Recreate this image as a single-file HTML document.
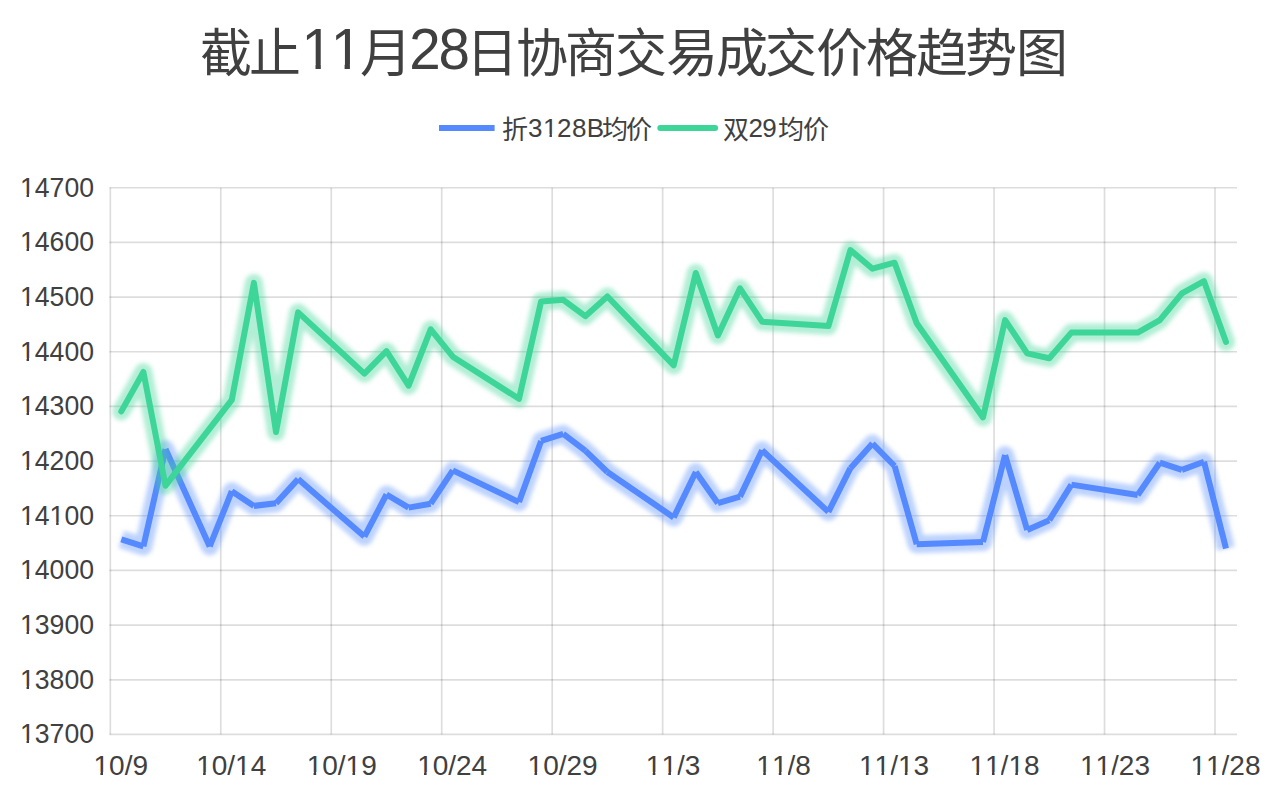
<!DOCTYPE html>
<html lang="zh-CN"><head><meta charset="utf-8">
<style>
html,body{margin:0;padding:0;background:#fff;}
body{width:1268px;height:804px;overflow:hidden;position:relative;font-family:"Liberation Sans",sans-serif;}
svg{position:absolute;left:0;top:0;font-family:"Liberation Sans",sans-serif;}
</style></head><body>
<svg width="1268" height="804" viewBox="0 0 1268 804">
<defs>
<filter id="glow" filterUnits="userSpaceOnUse" x="0" y="0" width="1268" height="804"><feGaussianBlur stdDeviation="2"/></filter>
</defs>
<rect width="1268" height="804" fill="#fff"/>
<g fill="#404040">
<text x="200.3" y="72.2" font-size="52">截</text>
<text x="249.0" y="72.2" font-size="52">止</text>
<text x="301.6" y="69.2" font-size="56.5">1</text>
<text x="330.7" y="69.2" font-size="56.5">1</text>
<text x="359.7" y="72.2" font-size="52">月</text>
<text x="409.2" y="69.2" font-size="56.5">2</text>
<text x="438.6" y="69.2" font-size="56.5">8</text>
<text x="465.8" y="72.2" font-size="52">日</text>
<text x="516.1" y="72.2" font-size="52">协</text>
<text x="564.8" y="72.2" font-size="52">商</text>
<text x="615.1" y="72.2" font-size="52">交</text>
<text x="666.3" y="72.2" font-size="52">易</text>
<text x="715.7" y="72.2" font-size="52">成</text>
<text x="765.1" y="72.2" font-size="52">交</text>
<text x="815.8" y="72.2" font-size="52">价</text>
<text x="865.5" y="72.2" font-size="52">格</text>
<text x="916.2" y="72.2" font-size="52">趋</text>
<text x="965.4" y="72.2" font-size="52">势</text>
<text x="1016.1" y="72.2" font-size="52">图</text>
</g>
<g stroke="#000" stroke-opacity="0.135" stroke-width="1.7" fill="none">
<line x1="109.5" y1="187.75" x2="1237" y2="187.75"/>
<line x1="109.5" y1="242.42" x2="1237" y2="242.42"/>
<line x1="109.5" y1="297.09" x2="1237" y2="297.09"/>
<line x1="109.5" y1="351.76" x2="1237" y2="351.76"/>
<line x1="109.5" y1="406.43" x2="1237" y2="406.43"/>
<line x1="109.5" y1="461.10" x2="1237" y2="461.10"/>
<line x1="109.5" y1="515.77" x2="1237" y2="515.77"/>
<line x1="109.5" y1="570.44" x2="1237" y2="570.44"/>
<line x1="109.5" y1="625.11" x2="1237" y2="625.11"/>
<line x1="109.5" y1="679.78" x2="1237" y2="679.78"/>
<line x1="109.5" y1="734.45" x2="1237" y2="734.45"/>
<line x1="110.30" y1="187.75" x2="110.30" y2="734.45"/>
<line x1="220.77" y1="187.75" x2="220.77" y2="734.45"/>
<line x1="331.24" y1="187.75" x2="331.24" y2="734.45"/>
<line x1="441.71" y1="187.75" x2="441.71" y2="734.45"/>
<line x1="552.18" y1="187.75" x2="552.18" y2="734.45"/>
<line x1="662.65" y1="187.75" x2="662.65" y2="734.45"/>
<line x1="773.12" y1="187.75" x2="773.12" y2="734.45"/>
<line x1="883.59" y1="187.75" x2="883.59" y2="734.45"/>
<line x1="994.06" y1="187.75" x2="994.06" y2="734.45"/>
<line x1="1104.53" y1="187.75" x2="1104.53" y2="734.45"/>
<line x1="1215.00" y1="187.75" x2="1215.00" y2="734.45"/>
</g>
<g font-size="28" fill="#404040">
<text transform="translate(20,196.55) scale(0.9507,1)" x="0.00 15.57 31.14 46.70 62.27" y="0">14700</text>
<text transform="translate(20,251.22) scale(0.9507,1)" x="0.00 15.57 31.14 46.70 62.27" y="0">14600</text>
<text transform="translate(20,305.89) scale(0.9507,1)" x="0.00 15.57 31.14 46.70 62.27" y="0">14500</text>
<text transform="translate(20,360.56) scale(0.9507,1)" x="0.00 15.57 31.14 46.70 62.27" y="0">14400</text>
<text transform="translate(20,415.23) scale(0.9507,1)" x="0.00 15.57 31.14 46.70 62.27" y="0">14300</text>
<text transform="translate(20,469.90) scale(0.9507,1)" x="0.00 15.57 31.14 46.70 62.27" y="0">14200</text>
<text transform="translate(20,524.57) scale(0.9507,1)" x="0.00 15.57 31.14 46.70 62.27" y="0">14100</text>
<text transform="translate(20,579.24) scale(0.9507,1)" x="0.00 15.57 31.14 46.70 62.27" y="0">14000</text>
<text transform="translate(20,633.91) scale(0.9507,1)" x="0.00 15.57 31.14 46.70 62.27" y="0">13900</text>
<text transform="translate(20,688.58) scale(0.9507,1)" x="0.00 15.57 31.14 46.70 62.27" y="0">13800</text>
<text transform="translate(20,743.25) scale(0.9507,1)" x="0.00 15.57 31.14 46.70 62.27" y="0">13700</text>
</g>
<g font-size="28" fill="#404040">
<text x="93.50 109.07 124.64 132.42" y="775.2">10/9</text>
<text x="196.19 211.76 227.33 235.11 250.68" y="775.2">10/14</text>
<text x="306.66 322.23 337.79 345.58 361.15" y="775.2">10/19</text>
<text x="417.13 432.70 448.26 456.05 471.62" y="775.2">10/24</text>
<text x="527.60 543.17 558.73 566.52 582.09" y="775.2">10/29</text>
<text x="645.85 661.42 676.99 684.77" y="775.2">11/3</text>
<text x="756.32 771.89 787.46 795.24" y="775.2">11/8</text>
<text x="859.01 874.58 890.14 897.93 913.50" y="775.2">11/13</text>
<text x="969.48 985.05 1000.61 1008.40 1023.97" y="775.2">11/18</text>
<text x="1079.95 1095.52 1111.09 1118.87 1134.44" y="775.2">11/23</text>
<text x="1190.42 1205.99 1221.56 1229.34 1244.91" y="775.2">11/28</text>
</g>
<g fill="none" stroke-linejoin="round" stroke-linecap="round" transform="translate(0,1.1)">
<polyline points="121.3,538.2 143.4,545.3 165.5,448.0 209.7,545.3 231.8,490.1 253.9,504.8 276.0,502.1 298.1,478.0 364.4,535.5 386.5,493.4 408.6,506.5 430.7,502.6 452.8,469.3 519.0,501.0 541.1,439.8 563.2,432.7 585.3,449.6 607.4,470.9 673.7,516.3 695.8,470.9 717.9,502.1 740.0,495.5 762.1,449.1 828.4,510.8 850.4,467.1 872.5,442.5 894.6,464.9 916.7,543.1 983.0,540.9 1005.1,454.0 1027.2,528.9 1049.3,519.1 1071.4,483.5 1137.7,493.9 1159.8,461.6 1181.9,468.8 1204.0,460.6 1226.0,547.5" stroke="#5b8ff9" stroke-opacity="0.4" stroke-width="18" stroke-linecap="butt" filter="url(#glow)"/>
<g stroke="#5589ff" stroke-width="6" stroke-linecap="butt">
<line x1="121.3" y1="538.2" x2="143.4" y2="545.3"/>
<line x1="143.4" y1="545.3" x2="165.5" y2="448.0"/>
<line x1="165.5" y1="448.0" x2="209.7" y2="545.3"/>
<line x1="209.7" y1="545.3" x2="231.8" y2="490.1"/>
<line x1="231.8" y1="490.1" x2="253.9" y2="504.8"/>
<line x1="253.9" y1="504.8" x2="276.0" y2="502.1"/>
<line x1="276.0" y1="502.1" x2="298.1" y2="478.0"/>
<line x1="298.1" y1="478.0" x2="364.4" y2="535.5"/>
<line x1="364.4" y1="535.5" x2="386.5" y2="493.4"/>
<line x1="386.5" y1="493.4" x2="408.6" y2="506.5"/>
<line x1="408.6" y1="506.5" x2="430.7" y2="502.6"/>
<line x1="430.7" y1="502.6" x2="452.8" y2="469.3"/>
<line x1="452.8" y1="469.3" x2="519.0" y2="501.0"/>
<line x1="519.0" y1="501.0" x2="541.1" y2="439.8"/>
<line x1="541.1" y1="439.8" x2="563.2" y2="432.7"/>
<line x1="563.2" y1="432.7" x2="585.3" y2="449.6"/>
<line x1="585.3" y1="449.6" x2="607.4" y2="470.9"/>
<line x1="607.4" y1="470.9" x2="673.7" y2="516.3"/>
<line x1="673.7" y1="516.3" x2="695.8" y2="470.9"/>
<line x1="695.8" y1="470.9" x2="717.9" y2="502.1"/>
<line x1="717.9" y1="502.1" x2="740.0" y2="495.5"/>
<line x1="740.0" y1="495.5" x2="762.1" y2="449.1"/>
<line x1="762.1" y1="449.1" x2="828.4" y2="510.8"/>
<line x1="828.4" y1="510.8" x2="850.4" y2="467.1"/>
<line x1="850.4" y1="467.1" x2="872.5" y2="442.5"/>
<line x1="872.5" y1="442.5" x2="894.6" y2="464.9"/>
<line x1="894.6" y1="464.9" x2="916.7" y2="543.1"/>
<line x1="916.7" y1="543.1" x2="983.0" y2="540.9"/>
<line x1="983.0" y1="540.9" x2="1005.1" y2="454.0"/>
<line x1="1005.1" y1="454.0" x2="1027.2" y2="528.9"/>
<line x1="1027.2" y1="528.9" x2="1049.3" y2="519.1"/>
<line x1="1049.3" y1="519.1" x2="1071.4" y2="483.5"/>
<line x1="1071.4" y1="483.5" x2="1137.7" y2="493.9"/>
<line x1="1137.7" y1="493.9" x2="1159.8" y2="461.6"/>
<line x1="1159.8" y1="461.6" x2="1181.9" y2="468.8"/>
<line x1="1181.9" y1="468.8" x2="1204.0" y2="460.6"/>
<line x1="1204.0" y1="460.6" x2="1226.0" y2="547.5"/>
</g>
<polyline points="121.3,410.3 143.4,370.9 165.5,484.6 231.8,398.8 253.9,281.8 276.0,431.0 298.1,311.3 364.4,372.5 386.5,350.1 408.6,384.6 430.7,328.3 452.8,355.6 519.0,397.7 541.1,300.4 563.2,298.7 585.3,315.1 607.4,295.4 673.7,364.3 695.8,271.9 717.9,334.3 740.0,287.2 762.1,320.6 828.4,325.0 850.4,249.0 872.5,267.6 894.6,261.6 916.7,322.2 983.0,416.3 1005.1,319.0 1027.2,352.3 1049.3,357.2 1071.4,331.5 1137.7,331.5 1159.8,319.0 1181.9,292.2 1204.0,280.1 1226.0,340.8" stroke="#3ed598" stroke-opacity="0.4" stroke-width="18" filter="url(#glow)"/>
<polyline points="121.3,410.3 143.4,370.9 165.5,484.6 231.8,398.8 253.9,281.8 276.0,431.0 298.1,311.3 364.4,372.5 386.5,350.1 408.6,384.6 430.7,328.3 452.8,355.6 519.0,397.7 541.1,300.4 563.2,298.7 585.3,315.1 607.4,295.4 673.7,364.3 695.8,271.9 717.9,334.3 740.0,287.2 762.1,320.6 828.4,325.0 850.4,249.0 872.5,267.6 894.6,261.6 916.7,322.2 983.0,416.3 1005.1,319.0 1027.2,352.3 1049.3,357.2 1071.4,331.5 1137.7,331.5 1159.8,319.0 1181.9,292.2 1204.0,280.1 1226.0,340.8" stroke="#3ed598" stroke-width="6"/>
</g>
<line x1="439" y1="128" x2="494.6" y2="128" stroke="#5589ff" stroke-width="6"/>
<line x1="660.3" y1="128" x2="715.1" y2="128" stroke="#3ed598" stroke-width="6" stroke-linecap="round"/>
<g fill="#404040">
<text x="502.1" y="138.6" font-size="26">折</text>
<text x="528.1" y="137.2" font-size="26">3</text>
<text x="543.1" y="137.2" font-size="26">1</text>
<text x="557.1" y="137.2" font-size="26">2</text>
<text x="572.1" y="137.2" font-size="26">8</text>
<text x="586.8" y="137.2" font-size="26">B</text>
<text x="601.7" y="138.6" font-size="26">均</text>
<text x="626.3" y="138.6" font-size="26">价</text>
<text x="723.0" y="138.6" font-size="26">双</text>
<text x="748.5" y="137.2" font-size="26">2</text>
<text x="762.3" y="137.2" font-size="26">9</text>
<text x="777.6" y="138.6" font-size="26">均</text>
<text x="802.5" y="138.6" font-size="26">价</text>
</g>
<g fill="#fff">
<rect x="19.73" y="194.00" width="6.81" height="4.00"/>
<rect x="29.05" y="194.00" width="6.26" height="4.00"/>
<rect x="19.73" y="248.00" width="6.81" height="4.00"/>
<rect x="29.05" y="248.00" width="6.26" height="4.00"/>
<rect x="19.73" y="303.00" width="6.81" height="4.00"/>
<rect x="29.05" y="303.00" width="6.26" height="4.00"/>
<rect x="19.73" y="358.00" width="6.81" height="4.00"/>
<rect x="29.05" y="358.00" width="6.26" height="4.00"/>
<rect x="19.73" y="412.00" width="6.81" height="4.00"/>
<rect x="29.05" y="412.00" width="6.26" height="4.00"/>
<rect x="19.73" y="467.00" width="6.81" height="4.00"/>
<rect x="29.05" y="467.00" width="6.26" height="4.00"/>
<rect x="19.73" y="522.00" width="6.81" height="4.00"/>
<rect x="29.05" y="522.00" width="6.26" height="4.00"/>
<rect x="49.33" y="522.00" width="6.81" height="4.00"/>
<rect x="58.65" y="522.00" width="6.26" height="4.00"/>
<rect x="19.73" y="576.00" width="6.81" height="4.00"/>
<rect x="29.05" y="576.00" width="6.26" height="4.00"/>
<rect x="19.73" y="631.00" width="6.81" height="4.00"/>
<rect x="29.05" y="631.00" width="6.26" height="4.00"/>
<rect x="19.73" y="686.00" width="6.81" height="4.00"/>
<rect x="29.05" y="686.00" width="6.26" height="4.00"/>
<rect x="19.73" y="740.00" width="6.81" height="4.00"/>
<rect x="29.05" y="740.00" width="6.26" height="4.00"/>
<rect x="93.22" y="772.00" width="7.17" height="4.00"/>
<rect x="103.02" y="772.00" width="6.58" height="4.00"/>
<rect x="195.91" y="772.00" width="7.17" height="4.00"/>
<rect x="205.71" y="772.00" width="6.58" height="4.00"/>
<rect x="234.83" y="772.00" width="7.17" height="4.00"/>
<rect x="244.63" y="772.00" width="6.58" height="4.00"/>
<rect x="306.38" y="772.00" width="7.17" height="4.00"/>
<rect x="316.18" y="772.00" width="6.58" height="4.00"/>
<rect x="345.30" y="772.00" width="7.17" height="4.00"/>
<rect x="355.10" y="772.00" width="6.58" height="4.00"/>
<rect x="416.85" y="772.00" width="7.17" height="4.00"/>
<rect x="426.65" y="772.00" width="6.58" height="4.00"/>
<rect x="527.32" y="772.00" width="7.17" height="4.00"/>
<rect x="537.12" y="772.00" width="6.58" height="4.00"/>
<rect x="645.57" y="772.00" width="7.17" height="4.00"/>
<rect x="655.37" y="772.00" width="6.58" height="4.00"/>
<rect x="661.14" y="772.00" width="7.17" height="4.00"/>
<rect x="670.94" y="772.00" width="6.58" height="4.00"/>
<rect x="756.04" y="772.00" width="7.17" height="4.00"/>
<rect x="765.84" y="772.00" width="6.58" height="4.00"/>
<rect x="771.61" y="772.00" width="7.17" height="4.00"/>
<rect x="781.41" y="772.00" width="6.58" height="4.00"/>
<rect x="858.73" y="772.00" width="7.17" height="4.00"/>
<rect x="868.53" y="772.00" width="6.58" height="4.00"/>
<rect x="874.30" y="772.00" width="7.17" height="4.00"/>
<rect x="884.10" y="772.00" width="6.58" height="4.00"/>
<rect x="897.65" y="772.00" width="7.17" height="4.00"/>
<rect x="907.45" y="772.00" width="6.58" height="4.00"/>
<rect x="969.20" y="772.00" width="7.17" height="4.00"/>
<rect x="979.00" y="772.00" width="6.58" height="4.00"/>
<rect x="984.77" y="772.00" width="7.17" height="4.00"/>
<rect x="994.57" y="772.00" width="6.58" height="4.00"/>
<rect x="1008.12" y="772.00" width="7.17" height="4.00"/>
<rect x="1017.92" y="772.00" width="6.58" height="4.00"/>
<rect x="1079.67" y="772.00" width="7.17" height="4.00"/>
<rect x="1089.47" y="772.00" width="6.58" height="4.00"/>
<rect x="1095.24" y="772.00" width="7.17" height="4.00"/>
<rect x="1105.04" y="772.00" width="6.58" height="4.00"/>
<rect x="1190.14" y="772.00" width="7.17" height="4.00"/>
<rect x="1199.94" y="772.00" width="6.58" height="4.00"/>
<rect x="1205.71" y="772.00" width="7.17" height="4.00"/>
<rect x="1215.51" y="772.00" width="6.58" height="4.00"/>
<rect x="301.04" y="64.00" width="14.46" height="7.00"/>
<rect x="320.81" y="64.00" width="13.28" height="7.00"/>
<rect x="330.13" y="64.00" width="14.46" height="7.00"/>
<rect x="349.91" y="64.00" width="13.28" height="7.00"/>
<rect x="542.84" y="134.00" width="6.66" height="4.00"/>
<rect x="551.94" y="134.00" width="6.11" height="4.00"/>
</g>
</svg>
</body></html>
